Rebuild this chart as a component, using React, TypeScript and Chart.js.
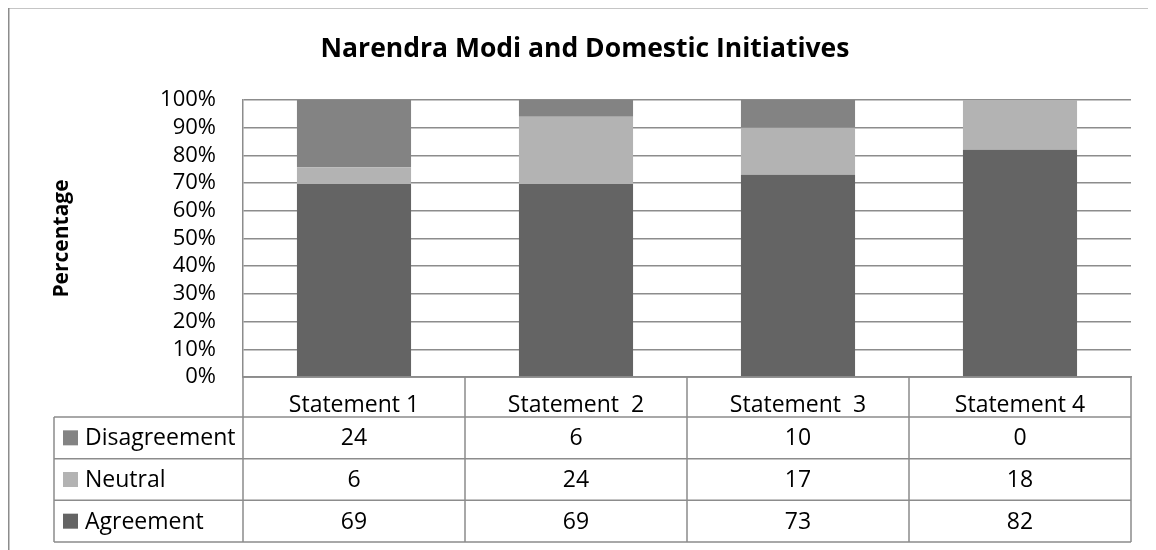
import React, { useEffect, useRef } from 'react';
import { Chart, registerables } from 'chart.js';

Chart.register(...registerables);

const TITLE = 'Narendra Modi and Domestic Initiatives';
const Y_TITLE = 'Percentage';
const categories = ['Statement 1', 'Statement  2', 'Statement  3', 'Statement 4'];
const seriesNames = ['Agreement', 'Neutral', 'Disagreement'];
const agreement = [69, 69, 73, 82];
const neutral = [6, 24, 17, 18];
const disagreement = [24, 6, 10, 0];
const seriesColors = ['#646464', '#b3b3b3', '#838383'];

const FONT = "'Open Sans', 'DejaVu Sans', sans-serif";
const LINE = '#8c8c8c';

const seriesValues = [agreement, neutral, disagreement];
const totals = categories.map((_, i) => agreement[i] + neutral[i] + disagreement[i]);
const percentOf = (arr: number[]) => arr.map((v, i) => (v / totals[i]) * 100);

const tablePlugin = {
  id: 'dataTable',
  beforeDraw(chart: any) {
    const { ctx, width, height } = chart;
    ctx.save();
    ctx.strokeStyle = LINE;
    ctx.lineWidth = 1.5;
    ctx.beginPath();
    ctx.moveTo(0.75, height);
    ctx.lineTo(0.75, 0.75);
    ctx.lineTo(width, 0.75);
    ctx.stroke();
    ctx.font = `bold 26.5px ${FONT}`;
    ctx.fillStyle = '#000';
    ctx.textAlign = 'center';
    ctx.textBaseline = 'middle';
    ctx.fillText(TITLE, 577, 42);
    ctx.restore();
  },
  afterDraw(chart: any) {
    const { ctx, chartArea } = chart;
    const x = chart.scales.x;
    const left = chartArea.left;
    const right = chartArea.right;
    const top = chartArea.bottom;
    const headerH = 40;
    const rowH = 41.67;
    const legendLeft = 46;
    const n = categories.length;
    const bounds: number[] = [left];
    for (let i = 0; i < n - 1; i++) {
      bounds.push((x.getPixelForValue(i) + x.getPixelForValue(i + 1)) / 2);
    }
    bounds.push(right);
    const rows = [2, 1, 0];
    const tableBottom = top + headerH + rows.length * rowH;

    ctx.save();
    ctx.strokeStyle = LINE;
    ctx.lineWidth = 1.5;
    ctx.beginPath();
    ctx.moveTo(left, top);
    ctx.lineTo(right, top);
    for (let r = 0; r <= rows.length; r++) {
      const y = top + headerH + r * rowH;
      ctx.moveTo(legendLeft, y);
      ctx.lineTo(right, y);
    }
    for (const b of bounds) {
      ctx.moveTo(b, top);
      ctx.lineTo(b, tableBottom);
    }
    ctx.moveTo(legendLeft, top + headerH);
    ctx.lineTo(legendLeft, tableBottom);
    ctx.stroke();

    ctx.font = `23px ${FONT}`;
    ctx.fillStyle = '#000';
    ctx.textBaseline = 'middle';
    rows.forEach((s, r) => {
      const cy = top + headerH + r * rowH + rowH / 2;
      ctx.fillStyle = seriesColors[s];
      ctx.fillRect(legendLeft + 9, cy - 7.5, 15, 15);
      ctx.fillStyle = '#000';
      ctx.textAlign = 'left';
      ctx.fillText(seriesNames[s], legendLeft + 31, cy + 1);
      ctx.textAlign = 'center';
      for (let i = 0; i < n; i++) {
        ctx.fillText(String(seriesValues[s][i]), (bounds[i] + bounds[i + 1]) / 2, cy + 1);
      }
    });
    ctx.restore();
  },
};

export default function App() {
  const ref = useRef<HTMLCanvasElement>(null);
  useEffect(() => {
    if (!ref.current) return;
    Chart.defaults.font.family = FONT;
    Chart.defaults.color = '#000';
    const chart = new Chart(ref.current, {
      type: 'bar',
      data: {
        labels: categories,
        datasets: seriesNames.map((name, s) => ({
          label: name,
          data: percentOf(seriesValues[s]),
          backgroundColor: seriesColors[s],
          borderWidth: 0,
          categoryPercentage: 1,
          barPercentage: 0.514,
        })),
      },
      options: {
        animation: false,
        responsive: true,
        maintainAspectRatio: false,
        layout: { padding: { top: 93, left: 0, right: 25, bottom: 133 } },
        plugins: {
          legend: { display: false },
          tooltip: { enabled: false },
          title: { display: false },
        },
        scales: {
          x: {
            stacked: true,
            grid: { display: false },
            border: { display: true, color: LINE, width: 1.5 },
            ticks: { font: { size: 23 }, padding: 6.2, color: '#000', autoSkip: false, maxRotation: 0 },
            afterFit: (s: any) => { s.height = 40; },
          },
          y: {
            stacked: true,
            min: 0,
            max: 100,
            grid: { color: LINE, lineWidth: 1.5, drawTicks: false },
            border: { display: true, color: LINE, width: 1.5 },
            ticks: {
              stepSize: 10,
              autoSkip: false,
              padding: 27,
              font: { size: 22 },
              color: '#000',
              callback: (v: any) => `${v}%`,
            },
            title: {
              display: true,
              text: Y_TITLE,
              color: '#000',
              font: { size: 21, weight: 'bold' },
              padding: { top: 41.4, bottom: 0 },
            },
            afterFit: (s: any) => { s.width = 235; },
          },
        },
      },
      plugins: [tablePlugin],
    });
    return () => chart.destroy();
  }, []);
  return (
    <div style={{ position: 'relative', width: 1148, height: 543, marginTop: -1 }}>
      <canvas ref={ref} />
    </div>
  );
}
